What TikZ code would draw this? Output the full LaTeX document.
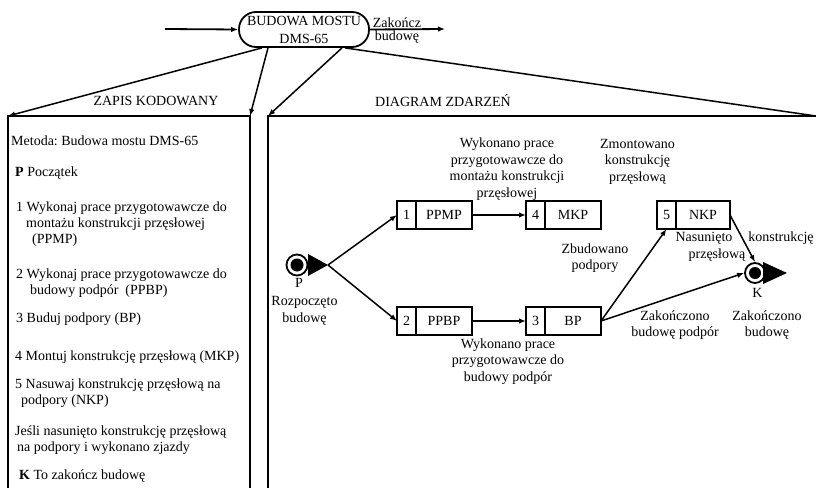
\documentclass[tikz,border=0pt]{standalone}
\usepackage{fontspec}
\setmainfont{Liberation Serif}
\usetikzlibrary{arrows.meta,calc}
\frenchspacing
\begin{document}
\begin{tikzpicture}[x=1pt,y=-1pt,
  every node/.style={font=\fontsize{14}{16.5}\selectfont, inner sep=0pt},
  conn/.style={line width=1.5pt},
  arr/.style={conn,-{Latex[length=7pt,width=5.5pt]}},
  frame/.style={line width=2.4pt},
  lbl/.style={align=center},
  code/.style={anchor=base west},
  numcell/.style={draw,line width=2pt,outer sep=0pt,minimum width=19pt,minimum height=28pt},
  actcell/.style={draw,line width=2pt,outer sep=0pt,minimum width=56pt,minimum height=28pt,anchor=west},
  ring/.style={circle,draw,fill=white,line width=1.8pt,minimum size=21pt},
  dot/.style={circle,fill=black,minimum size=13pt},
]
\useasboundingbox (0,0) rectangle (816,487);

% ---- top process node ----
\node[draw, rounded corners=17pt, line width=1.8pt, minimum width=130pt,
      minimum height=35pt, align=center, inner sep=0pt] (top) at (304,29.5)
      {BUDOWA MOSTU\\[1.5pt]DMS-65};
\coordinate (inp) at (165,29);
\coordinate (outp) at (445,29);
\draw[arr, line width=1.8pt] (inp) -- (top.west);
\draw[arr, line width=1.8pt] (top.east) -- (outp);
\node (endlbl1) at (397,23) {Zakończ};
\node (endlbl2) at (397,37) {budowę};

% ---- two panels ----
\coordinate (lTL) at (8,116);
\coordinate (lTR) at (250,116);
\coordinate (rTL) at (268,116);
\coordinate (rTR) at (816,116);
\draw[frame] (8,490) -- (lTL) -- (lTR) -- (250,490);
\draw[frame] (268,490) -- (rTL) -- (rTR);

\draw[arr] ($(top.south)+(-42,0)$) -- (lTL);
\draw[arr] ($(top.south)+(-36,0)$) -- (lTR);
\draw[arr] ($(top.south)+(38,0)$) -- (rTL);
\draw[conn] ($(top.south)+(41,0)$) -- (rTR);

\node (hdrL) at (156,101) {ZAPIS KODOWANY};
\node (hdrR) at (443,101) {DIAGRAM ZDARZEŃ};

% ---- coded description ----
\node[code] (c0) at (11,145) {Metoda: Budowa mostu DMS-65};
\node[code] (c1) at (15,176) {\textbf{P} Początek};
\node[code] (c2a) at (16,211) {1 Wykonaj prace przygotowawcze do};
\node[code] (c2b) at (26,227) {montażu konstrukcji przęsłowej};
\node[code] (c2c) at (32,243) {(PPMP)};
\node[code] (c3a) at (16,278) {2 Wykonaj prace przygotowawcze do};
\node[code] (c3b) at (30,294) {budowy podpór\ \ (PPBP)};
\node[code] (c4) at (16,322) {3 Buduj podpory (BP)};
\node[code] (c5) at (15,360) {4 Montuj konstrukcję przęsłową (MKP)};
\node[code] (c6a) at (15,388) {5 Nasuwaj konstrukcję przęsłową na};
\node[code] (c6b) at (21,404) {podpory (NKP)};
\node[code] (c7a) at (15,435) {Jeśli nasunięto konstrukcję przęsłową};
\node[code] (c7b) at (17,451) {na podpory i wykonano zjazdy};
\node[code] (c8) at (19,479) {\textbf{K} To zakończ budowę};

% ---- event diagram ----
% start event P
\node[ring] (Pr) at (297,265) {};
\node[dot] (Pd) at (297,265) {};
\coordinate (Ptip) at (328,265);
\fill (308,254) -- (Ptip) -- (308,276) -- cycle;
\node (Plbl) at (299,283) {P};
\node[lbl] (Ptxt) at (304.5,311) {Rozpoczęto\\budowę};

% end event K
\node[ring, minimum size=20pt] (Kr) at (755,273) {};
\node[dot, minimum size=12pt] (Kd) at (755,273) {};
\fill (763,262) -- (787,273) -- (763,284) -- cycle;
\node (Klbl) at (757.5,293) {K};
\node[lbl] (Ktxt) at (767,325) {Zakończono\\budowę};

% activity boxes
\node[numcell] (n1) at (406.5,215) {1};
\node[actcell] (b1) at (n1.east) {PPMP};
\node[numcell] (n4) at (535.5,215) {4};
\node[actcell] (b4) at (n4.east) {MKP};
\node[numcell] (n5) at (666.5,215) {5};
\node[actcell, minimum width=54pt] (b5) at (n5.east) {NKP};
\node[numcell] (n2) at (406.5,321) {2};
\node[actcell] (b2) at (n2.east) {PPBP};
\node[numcell] (n3) at (535.5,321) {3};
\node[actcell] (b3) at (n3.east) {BP};

% flows
\draw[arr] (Ptip) -- (n1.west);
\draw[arr] (Ptip) -- (n2.west);
\draw[arr] (b1.east) -- (n4.west);
\draw[arr] (b2.east) -- (n3.west);
\draw[arr] (b3.east) -- (n5.south);
\draw[arr] (b3.east) -- (Kr.west);
\draw[arr] (b5.east) -- (Kr.north);

% event labels
\node[lbl] (e1) at (507,169) {Wykonano prace\\przygotowawcze do\\montażu konstrukcji\\przęsłowej};
\node[lbl] (e4) at (637.5,161.5) {Zmontowano\\konstrukcję\\przęsłową};
\node[lbl] (e3) at (595,258) {Zbudowano\\podpory};
\node (e5a) at (704,238) {Nasunięto};
\node (e5b) at (781,238) {konstrukcję};
\node (e5c) at (717,255) {przęsłową};
\node[lbl] (e2) at (508,361.5) {Wykonano prace\\przygotowawcze do\\budowy podpór};
\node[lbl] (e6) at (675,325) {Zakończono\\budowę podpór};
\end{tikzpicture}
\end{document}
